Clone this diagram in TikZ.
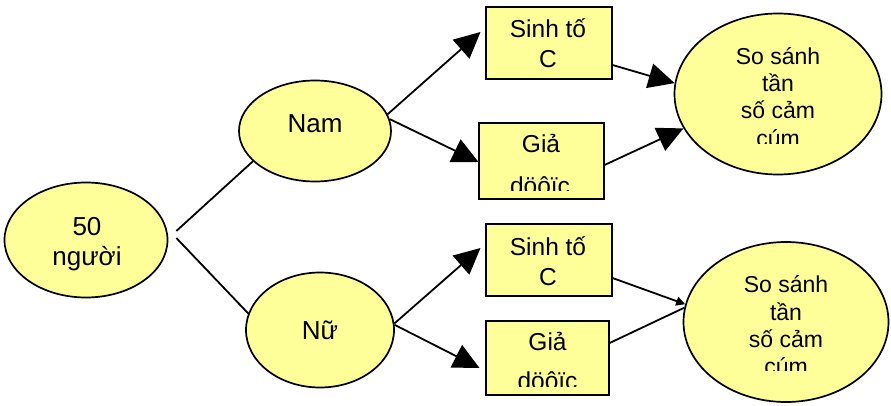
\documentclass[tikz,border=0pt]{standalone}
\usepackage{fontspec}
\setmainfont{Liberation Sans}
\usetikzlibrary{shapes.geometric,arrows.meta,calc}
\pgfdeclarelayer{bg}
\pgfsetlayers{bg,main}
\definecolor{yfill}{RGB}{255,255,153}
\begin{document}
\begin{tikzpicture}[x=1pt,y=-1pt,
  ell/.style={ellipse, draw, line width=1.7pt, fill=yfill, inner sep=0pt},
  boxst/.style={rectangle, draw, line width=2pt, fill=yfill, inner sep=0pt},
  lblL/.style={anchor=base, inner sep=0pt, font=\fontsize{26}{30}\selectfont},
  lblB/.style={anchor=base, inner sep=0pt, font=\fontsize{24.5}{30}\selectfont},
  lblR/.style={anchor=base, inner sep=0pt, font=\fontsize{23}{27}\selectfont},
  conn/.style={line width=1.8pt},
  arr/.style={conn, -{Triangle[length=26pt,width=25pt]}},
  arrsmall/.style={conn, -{Triangle[length=9pt,width=9pt]}}]
\useasboundingbox (0,0) rectangle (891,406);

% shapes
\node[ell, minimum width=163pt, minimum height=115pt] (p50) at (86,240) {};
\node[ell, minimum width=152pt, minimum height=101pt] (nam) at (315,131) {};
\node[ell, minimum width=148pt, minimum height=115pt] (nu) at (320,330) {};
\node[boxst, minimum width=126pt, minimum height=72pt] (sc1) at (548.5,43.5) {};
\node[boxst, minimum width=125pt, minimum height=76pt] (gd1) at (541,161.5) {};
\node[boxst, minimum width=126pt, minimum height=72pt] (sc2) at (548.5,259.5) {};
\node[boxst, minimum width=123pt, minimum height=74pt] (gd2) at (547,357.5) {};
\node[ell, minimum width=207pt, minimum height=161pt] (cmp1) at (778,94) {};
\node[ell, minimum width=205pt, minimum height=160pt] (cmp2) at (786,322) {};

% connectors
\begin{pgfonlayer}{bg}
\fill[white] (0,0) rectangle (891,406);
\draw[conn] ($(p50.east)+(8,-9)$) -- (nam.206);
\draw[conn] ($(p50.east)+(8,-2)$) -- (nu.167);
\draw[arr] (nam.13) -- ($(sc1.west)+(-4,-11.5)$);
\draw[arr] (nam.9) -- ($(gd1.west)+(1,0.5)$);
\draw[arr] (nu.5) -- ($(sc2.west)+(-4,-11.5)$);
\draw[arr] (nu.4) -- ($(gd2.west)+(-5,10.5)$);
\draw[arr] ($(sc1.east)+(0,21.5)$) -- (cmp1.174);
\draw[arr] ($(gd1.east)+(0,3.5)$) -- (cmp1.200);
\draw[arrsmall] ($(sc2.east)+(0,18.5)$) -- (cmp2.170);
\draw[conn] ($(gd2.east)+(-2,-13.5)$) -- (cmp2.172);
\end{pgfonlayer}

% texts
\node[lblL] (p50a) at (87,235) {50};
\node[lblL] (p50b) at (87,265) {người};
\node[lblL] (namt) at (315,133) {Nam};
\node[lblL] (nut) at (320,339) {Nữ};

\node[lblB] (sc1a) at (548,38) {Sinh tố};
\node[lblB] (sc1b) at (548,68) {C};
\node[lblB] (gd1a) at (541,153) {Giả};
\begin{scope}
\clip (470,165) rectangle (610,191);
\node[lblB] (gd1b) at (540,194) {döôïc};
\end{scope}

\node[lblB] (sc2a) at (548,255) {Sinh tố};
\node[lblB] (sc2b) at (548,285) {C};
\node[lblB] (gd2a) at (547.5,350) {Giả};
\begin{scope}
\clip (470,360) rectangle (610,386);
\node[lblB] (gd2b) at (547.5,389) {döôïc};
\end{scope}

\node[lblR] (cmp1a) at (778,65) {So sánh};
\node[lblR] (cmp1b) at (778,92) {tần};
\node[lblR] (cmp1c) at (778,119) {số cảm};
\begin{scope}
\clip (700,120) rectangle (860,144);
\node[lblR] (cmp1d) at (778,147) {cúm};
\end{scope}

\node[lblR] (cmp2a) at (786,292) {So sánh};
\node[lblR] (cmp2b) at (786,320) {tần};
\node[lblR] (cmp2c) at (786,347) {số cảm};
\begin{scope}
\clip (700,350) rectangle (870,370);
\node[lblR] (cmp2d) at (786,374) {cúm};
\end{scope}
\end{tikzpicture}
\end{document}
